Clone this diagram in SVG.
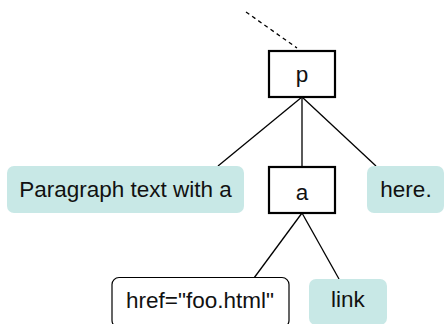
<svg xmlns="http://www.w3.org/2000/svg" width="445" height="324" viewBox="0 0 445 324">
<style>
.el{fill:#fff;stroke:#000;stroke-width:2.2}
.txt{fill:#c8e8e6;stroke:none}
.attr{fill:#fff;stroke:#000;stroke-width:1.2}
text{font-family:"Liberation Sans",Arial,sans-serif;font-size:22.5px;fill:#111;text-anchor:middle}
.edge{stroke:#000;stroke-width:1.3;fill:none}
</style>
<rect width="445" height="324" fill="#fff"/>
<g id="connectors">
<line class="edge" x1="246" y1="12" x2="297" y2="48" stroke-dasharray="4,3.5"/>
<line class="edge" x1="302" y1="97" x2="218" y2="166"/>
<line class="edge" x1="302" y1="97" x2="302" y2="167"/>
<line class="edge" x1="302" y1="97" x2="376" y2="166"/>
<line class="edge" x1="302" y1="213" x2="254" y2="278"/>
<line class="edge" x1="302" y1="213" x2="339" y2="279"/>
</g>
<g id="node-p">
<rect class="el" x="269" y="51" width="66" height="46"/>
<text x="302" y="82">p</text>
</g>
<g id="node-paragraph">
<rect class="txt" x="7" y="166" width="237" height="47" rx="7"/>
<text x="125.5" y="197">Paragraph text with a</text>
</g>
<g id="node-a">
<rect class="el" x="269" y="167" width="66" height="46"/>
<text x="302" y="200">a</text>
</g>
<g id="node-here">
<rect class="txt" x="367" y="166" width="77" height="47" rx="7"/>
<text x="406" y="197">here.</text>
</g>
<g id="node-href">
<rect class="attr" x="112" y="277.5" width="177" height="50" rx="7"/>
<text x="200" y="308">href="foo.html"</text>
</g>
<g id="node-link">
<rect class="txt" x="309" y="279" width="78" height="46" rx="7"/>
<text x="348" y="307">link</text>
</g>
</svg>
